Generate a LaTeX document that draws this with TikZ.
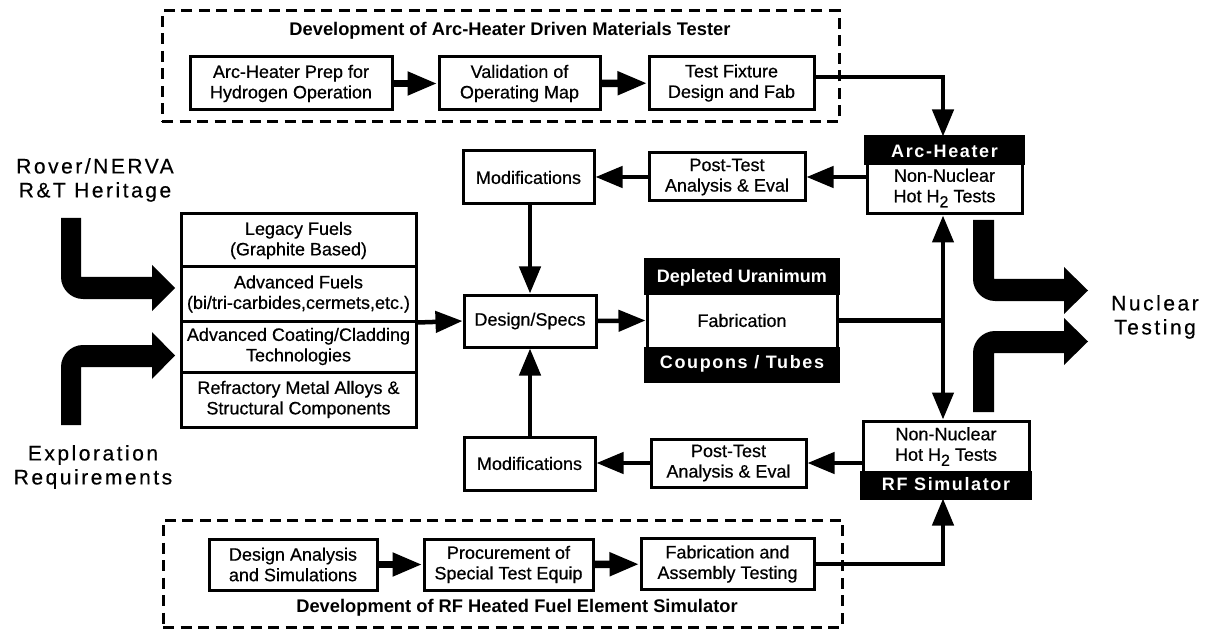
\documentclass[tikz,border=0pt]{standalone}
\usepackage{fontspec}
\setmainfont{Liberation Sans}
\newfontfamily\bxfam[FakeBold=0.5]{Liberation Sans}
\newfontfamily\spaced[LetterSpace=12,FakeBold=0.4]{Liberation Sans}
\newfontfamily\spacedb[LetterSpace=9]{Liberation Sans}
\usetikzlibrary{arrows.meta}
\newcommand\boxfont{\bxfam\fontsize{18}{20.5}\selectfont}
\newcommand\bigfont{\spaced\fontsize{21}{24}\selectfont}
\newcommand\hdrfont{\spacedb\bfseries\fontsize{18}{20}\selectfont}
\newcommand\ttlfont{\bfseries\fontsize{18.3}{20}\selectfont}
\newcommand\subtwo{\raisebox{-5pt}{\fontsize{16}{16}\selectfont 2}}
\tikzset{
  box/.style={draw, line width=3pt, fill=white, align=center, inner sep=0pt, font=\boxfont},
  dbox/.style={draw, line width=3pt, dash pattern=on 11pt off 6.5pt, inner sep=0pt},
  conn/.style={line width=4.5pt, -{Triangle[length=27pt,width=21pt]}},
  proc/.style={line width=7.5pt, -{Triangle[length=30pt,width=22pt]}},
  hdr/.style={text=white, font=\hdrfont, inner sep=0pt},
  ttl/.style={font=\ttlfont, inner sep=0pt},
  big/.style={font=\bigfont, align=center, inner sep=0pt},
  plain/.style={font=\boxfont, align=center, inner sep=0pt},
}
\begin{document}
\begin{tikzpicture}[x=1pt,y=-1pt]
\useasboundingbox (0,0) rectangle (1208,631);
\fill[white] (0,0) rectangle (1208,631);

% ---- top dashed group
\node[dbox, minimum width=677pt, minimum height=111pt] (topgrp) at (500.5,66.5) {};
\node[ttl] (ttl1) at (510,31) {Development of Arc-Heater Driven Materials Tester};
\node[box, minimum width=202pt, minimum height=53pt] (a1) at (291,83.5) {Arc-Heater Prep for\\Hydrogen Operation};
\node[box, minimum width=161pt, minimum height=53pt] (a2) at (519.5,83.5) {Validation of\\Operating Map};
\node[box, minimum width=165pt, minimum height=53pt] (a3) at (731.5,83) {Test Fixture\\Design and Fab};
\draw[proc] (a1) -- (a2);
\draw[proc] (a2) -- (a3);

% ---- bottom dashed group
\node[dbox, minimum width=679pt, minimum height=107pt] (botgrp) at (502.5,573.5) {};
\node[ttl] (ttl2) at (517,608) {Development of RF Heated Fuel Element Simulator};
\node[box, minimum width=168pt, minimum height=51pt] (b1) at (293,564.5) {Design Analysis\\and Simulations};
\node[box, minimum width=169pt, minimum height=51pt] (b2) at (508.5,564.5) {Procurement of\\Special Test Equip};
\node[box, minimum width=173pt, minimum height=51pt] (b3) at (727.5,564) {Fabrication and\\Assembly Testing};
\draw[proc] (b1) -- (b2);
\draw[proc] (b2) -- (b3);

% ---- arc heater box
\node[box, minimum width=155pt, minimum height=76pt] (arc) at (944.5,176) {};
\fill ([xshift=-1.5pt,yshift=1.5pt]arc.north west) rectangle ([xshift=1.5pt,yshift=-29pt]arc.north east);
\node[hdr] (archdr) at (944.5,151.5) {Arc-Heater};
\node[plain] (arctxt) at (944.5,188) {Non-Nuclear\\Hot H\subtwo\ Tests};

% ---- RF simulator box
\node[box, minimum width=166pt, minimum height=76pt] (rf) at (946,459) {};
\fill ([xshift=-1.5pt,yshift=-1.5pt]rf.south west) rectangle ([xshift=1.5pt,yshift=28pt]rf.south east);
\node[hdr] (rfhdr) at (946,484) {RF Simulator};
\node[plain] (rftxt) at (946,446.5) {Non-Nuclear\\Hot H\subtwo\ Tests};

% ---- center column
\node[box, minimum width=156pt, minimum height=48pt] (pt1) at (727,177) {Post-Test\\Analysis \& Eval};
\node[box, minimum width=131pt, minimum height=53pt] (m1) at (528.5,177.5) {Modifications};
\node[box, minimum width=132pt, minimum height=52pt] (ds) at (530,321) {Design/Specs};
\node[box, minimum width=131pt, minimum height=53pt] (m2) at (529.5,463.5) {Modifications};
\node[box, minimum width=155pt, minimum height=48pt] (pt2) at (728.5,463) {Post-Test\\Analysis \& Eval};

% ---- fabrication block
\node[box, minimum width=190pt, minimum height=119pt] (fab) at (742,320.5) {};
\fill ([xshift=-1.5pt,yshift=1.5pt]fab.north west) rectangle ([xshift=1.5pt,yshift=-35pt]fab.north east);
\fill ([xshift=-1.5pt,yshift=-1.5pt]fab.south west) rectangle ([xshift=1.5pt,yshift=35pt]fab.south east);
\node[text=white, font=\bfseries\fontsize{18}{20}\selectfont, inner sep=0pt] (fabtop) at (742,278) {Depleted Uranimum};
\node[plain] (fabmid) at (742,320.5) {Fabrication};
\node[hdr] (fabbot) at (742,363.5) {Coupons / Tubes};

% ---- stacked list
\node[box, minimum width=235pt, minimum height=53pt] (s1) at (298.5,240.5) {Legacy Fuels\\(Graphite Based)};
\node[box, minimum width=235pt, minimum height=54pt] (s2) at (298.5,294) {Advanced Fuels\\(bi/tri-carbides,cermets,etc.)};
\node[box, minimum width=235pt, minimum height=51pt] (s3) at (298.5,346.5) {Advanced Coating/Cladding\\Technologies};
\node[box, minimum width=235pt, minimum height=55pt] (s4) at (298.5,399.5) {Refractory Metal Alloys \&\\Structural Components};

% ---- connectors
\coordinate (j) at (943,320.5);
\draw[conn] ([yshift=6pt]a3.east) -| (j |- arc.north);
\draw[conn] (arc.west |- pt1.east) -- (pt1.east);
\draw[conn] (pt1.west) -- (m1.east |- pt1.west);
\draw[conn] (m1.south -| ds.north) -- (ds.north);
\draw[conn] (m2.north -| ds.south) -- (ds.south);
\draw[conn] (rf.west |- pt2.east) -- (pt2.east);
\draw[conn] (pt2.west) -- (m2.east |- pt2.west);
\draw[conn] (s2.south east) -- (ds.west);
\draw[conn] (ds.east) -- (fab.west);
\draw[line width=4.5pt] (fab.east) -- (j);
\draw[line width=4.5pt, {Triangle[length=27pt,width=21pt]}-{Triangle[length=27pt,width=21pt]}] (j |- arc.south) -- (j |- rf.north);
\draw[conn] (b3.east) -| (j |- rf.south);

% ---- big arrows
\fill (61,218) -- (81,218) -- (81,277) -- (152,277) -- (152,265) -- (175,288) -- (152,311) -- (152,299) -- (83,299) .. controls (71,299) and (61,289) .. (61,277) -- cycle;
\fill (61,425) -- (61,367) .. controls (61,355) and (71,345) .. (83,345) -- (152,345) -- (152,332) -- (175,355.5) -- (152,379) -- (152,367) -- (81,367) -- (81,425) -- cycle;
\fill (973,220) -- (994,220) -- (994,279) -- (1064,279) -- (1064,267) -- (1088,290.5) -- (1064,314) -- (1064,301) -- (995,301) .. controls (983,301) and (973,291) .. (973,279) -- cycle;
\fill (973,412) -- (973,353) .. controls (973,341) and (983,331) .. (995,331) -- (1064,331) -- (1064,318) -- (1088,341.5) -- (1064,365) -- (1064,353) -- (994,353) -- (994,412) -- cycle;

% ---- big labels
\node[big] (rover) at (95,180) {Rover/NERVA\\R\&T Heritage};
\node[big] (explo) at (93,467) {Exploration\\Requirements};
\node[big] (nuc) at (1155,317) {Nuclear\\Testing};
\end{tikzpicture}
\end{document}
